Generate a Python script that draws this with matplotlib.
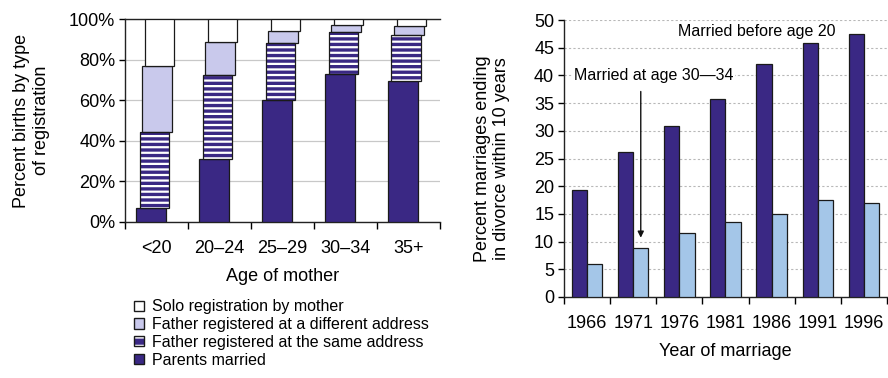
import matplotlib.pyplot as plt
from matplotlib.patches import Rectangle
from matplotlib.legend_handler import HandlerTuple
import numpy as np

#region: data
ages = ['<20', '20\u201324', '25\u201329', '30\u201334', '35+']
married = [7, 31, 60, 73, 69.5]
father_same = [37.5, 41.5, 28, 20.5, 22.5]
father_diff = [32.5, 16, 6, 3.5, 4.5]
solo = [23, 11.5, 6, 3, 3.5]

years = ['1966', '1971', '1976', '1981', '1986', '1991', '1996']
before_20 = [19.3, 26.2, 30.8, 35.8, 42.0, 45.8, 47.5]
age_30_34 = [6.0, 8.8, 11.5, 13.5, 15.0, 17.5, 17.0]
#endregion

DARK = '#3a2884'
LAVENDER = '#c9c9ec'
LIGHTBLUE = '#a4c6e8'
EDGE = '#1a1a1a'

plt.rcParams['font.family'] = 'Liberation Sans'
plt.rcParams['font.size'] = 13
plt.rcParams['hatch.linewidth'] = 1.6

fig = plt.figure(figsize=(8.88, 3.78), dpi=100)

#region: left chart
ax1 = fig.add_axes([0.1408, 0.4127, 0.3547, 0.537])
x = np.arange(len(ages))
w = 0.47
bottom = np.zeros(len(ages))
# each stacked segment is nudged a little to the right, as in the original
segs = [(married, -0.084, 'married'), (father_same, -0.035, 'same'),
        (father_diff, 0.011, 'diff'), (solo, 0.05, 'solo')]
for vals, off, kind in segs:
    vals = np.array(vals)
    if kind == 'same':
        ax1.bar(x + off, vals, w, bottom=bottom, color=DARK, edgecolor='white',
                hatch='---', linewidth=0, zorder=3)
        ax1.bar(x + off, vals, w, bottom=bottom, facecolor='none', edgecolor=EDGE,
                linewidth=0.9, zorder=4)
    else:
        fc = {'married': DARK, 'diff': LAVENDER, 'solo': 'white'}[kind]
        ax1.bar(x + off, vals, w, bottom=bottom, color=fc, edgecolor=EDGE,
                linewidth=0.9, zorder=3)
    bottom = bottom + vals

ax1.set_xlim(-0.5, len(ages) - 0.5)
ax1.set_ylim(0, 100)
ax1.set_yticks(range(0, 101, 20))
ax1.set_yticklabels([f'{v}%' for v in range(0, 101, 20)])
ax1.set_xticks(x)
ax1.set_xticklabels(ages)
ax1.set_xticks(np.arange(-0.5, len(ages)), minor=True)
ax1.tick_params(axis='x', which='major', length=0, pad=13)
ax1.tick_params(axis='x', which='minor', length=5, width=1, direction='out')
ax1.tick_params(axis='y', length=4, width=1, direction='out', pad=3)
ax1.yaxis.grid(True, color='#c8c8c8', linewidth=0.9, zorder=0)
ax1.set_axisbelow(True)
ax1.spines['right'].set_visible(False)
for s in ['left', 'bottom', 'top']:
    ax1.spines[s].set_color('#222222')
    ax1.spines[s].set_linewidth(1)
ax1.set_xlabel('Age of mother', labelpad=8)
ax1.set_ylabel('Percent births by type\nof registration', labelpad=14)

h_solo = Rectangle((0, 0), 1, 1, facecolor='white', edgecolor=EDGE, linewidth=1)
h_diff = Rectangle((0, 0), 1, 1, facecolor=LAVENDER, edgecolor=EDGE, linewidth=1)
h_same_fill = Rectangle((0, 0), 1, 1, facecolor=DARK, edgecolor='white', hatch='--', linewidth=0)
h_same_edge = Rectangle((0, 0), 1, 1, facecolor='none', edgecolor=EDGE, linewidth=1)
h_mar = Rectangle((0, 0), 1, 1, facecolor=DARK, edgecolor=EDGE, linewidth=1)
fig.legend([h_solo, h_diff, (h_same_fill, h_same_edge), h_mar],
           ['Solo registration by mother', 'Father registered at a different address',
            'Father registered at the same address', 'Parents married'],
           handler_map={tuple: HandlerTuple(ndivide=1, pad=0)},
           loc='upper left', bbox_to_anchor=(0.151, 0.208), frameon=False,
           fontsize=11.5, handlelength=0.6, handleheight=0.6, handletextpad=0.5,
           labelspacing=0.17, borderaxespad=0, borderpad=0)
#endregion

#region: right chart
ax2 = fig.add_axes([0.635, 0.2143, 0.364, 0.7327])
xr = np.arange(len(years))
bw = 0.33
ax2.bar(xr - bw / 2, before_20, bw, color=DARK, edgecolor=EDGE, linewidth=0.9, zorder=3)
ax2.bar(xr + bw / 2, age_30_34, bw, color=LIGHTBLUE, edgecolor=EDGE, linewidth=0.9, zorder=3)
ax2.set_xlim(-0.5, len(years) - 0.5)
ax2.set_ylim(0, 50)
ax2.set_yticks(range(0, 51, 5))
ax2.set_xticks(xr)
ax2.set_xticklabels(years)
ax2.set_xticks(np.arange(-0.5, len(years)), minor=True)
ax2.tick_params(axis='x', which='major', length=0, pad=13)
ax2.tick_params(axis='x', which='minor', length=5, width=1, direction='out')
ax2.tick_params(axis='y', length=4, width=1, direction='out', pad=3)
ax2.yaxis.grid(True, color='#b8b8b8', linewidth=0.8, linestyle=(0, (2, 2)), zorder=0)
ax2.set_axisbelow(True)
ax2.spines['right'].set_visible(False)
ax2.spines['top'].set_visible(False)
for s in ['left', 'bottom']:
    ax2.spines[s].set_color('#222222')
    ax2.spines[s].set_linewidth(1)
ax2.set_xlabel('Year of marriage', labelpad=8)
ax2.set_ylabel('Percent marriages ending\nin divorce within 10 years', labelpad=17)

ax2.text(1.97, 47.9, 'Married before age 20', fontsize=11.5, va='center', ha='left',
         bbox=dict(facecolor='white', edgecolor='none', pad=1), zorder=5)
ax2.text(-0.28, 40, 'Married at age 30\u201434', fontsize=11.5, va='center', ha='left',
         bbox=dict(facecolor='white', edgecolor='none', pad=1), zorder=5)
ax2.annotate('', xy=(1 + bw / 2, 10.2), xytext=(1 + bw / 2, 37.6),
             arrowprops=dict(arrowstyle='-|>', color='#111111', lw=1, mutation_scale=9),
             zorder=5)
#endregion

fig.savefig('out.png', dpi=100)
